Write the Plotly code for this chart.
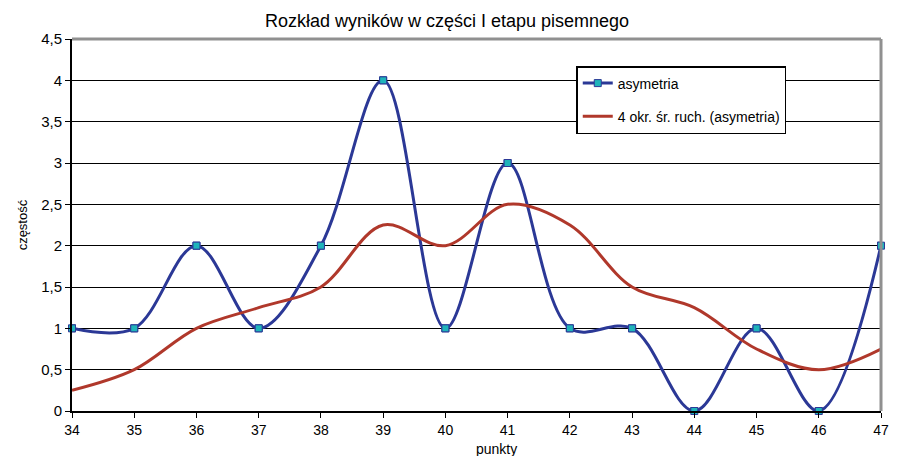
import plotly.graph_objects as go

# Score frequency data
punkty = [34, 35, 36, 37, 38, 39, 40, 41, 42, 43, 44, 45, 46, 47]
asymetria = [1, 1, 2, 1, 2, 4, 1, 3, 1, 1, 0, 1, 0, 2]
srednia_ruchoma = [0.25, 0.5, 1.0, 1.25, 1.5, 2.25, 2.0, 2.5, 2.25, 1.5, 1.25, 0.75, 0.5, 0.75]
y_ticks = [0, 0.5, 1, 1.5, 2, 2.5, 3, 3.5, 4, 4.5]

BLUE = "#2B3896"
RED = "#B0382B"
TEAL = "#1FB4BA"
FONT = "Liberation Sans, Arial, sans-serif"

fig = go.Figure()

fig.add_trace(go.Scatter(
    x=punkty, y=asymetria, name="asymetria", legendgroup="a",
    mode="lines+markers",
    line=dict(color=BLUE, width=3, shape="spline", smoothing=1),
    marker=dict(symbol="square", size=7, color=TEAL, line=dict(color=BLUE, width=1)),
))
fig.add_trace(go.Scatter(
    x=punkty, y=srednia_ruchoma, name="4 okr. śr. ruch. (asymetria)", legendgroup="b",
    mode="lines",
    line=dict(color=RED, width=3, shape="spline", smoothing=1),
))
# markers drawn again on top, unclipped at the plot edges
fig.add_trace(go.Scatter(
    x=punkty, y=asymetria, mode="markers", showlegend=False, cliponaxis=False,
    marker=dict(symbol="square", size=7, color=TEAL, line=dict(color=BLUE, width=1)),
    hoverinfo="skip",
))

# grey plot-area frame on top and right
fig.add_shape(type="line", xref="paper", yref="paper", x0=0, x1=1, y0=1, y1=1,
              line=dict(color="#909090", width=3), layer="above")
fig.add_shape(type="line", xref="paper", yref="paper", x0=1, x1=1, y0=0, y1=1,
              line=dict(color="#909090", width=3), layer="above")

fig.update_layout(
    width=901, height=456,
    margin=dict(l=72, r=14, t=39, b=45),
    paper_bgcolor="white", plot_bgcolor="white",
    separators=", ",
    font=dict(family=FONT, size=14, color="black"),
    title=dict(text="Rozkład wyników w części I etapu pisemnego",
               x=447 / 901, xanchor="center", y=1 - 21 / 456, yanchor="middle",
               font=dict(size=18, family=FONT, color="black")),
    xaxis=dict(
        range=[34, 47], tickmode="array", tickvals=punkty,
        ticktext=[str(p) for p in punkty],
        showgrid=False, zeroline=False,
        showline=True, linecolor="black", linewidth=2,
        ticks="outside", ticklen=5, tickcolor="black", tickwidth=1,
        tickfont=dict(size=14),
    ),
    yaxis=dict(
        range=[0, 4.5], tickmode="array", tickvals=y_ticks,
        showgrid=True, gridcolor="black", gridwidth=1, zeroline=False,
        showline=True, linecolor="black", linewidth=2,
        ticks="outside", ticklen=5, tickcolor="black", tickwidth=1,
        tickfont=dict(size=15),
    ),
    legend=dict(
        x=(580 - 72) / 815, y=(411 - 66) / 372, xanchor="left", yanchor="top",
        bgcolor="white", bordercolor="black", borderwidth=1.5,
        font=dict(size=14, family=FONT), traceorder="grouped", tracegroupgap=12,
    ),
    annotations=[
        dict(text="częstość", xref="paper", yref="paper",
             x=(22 - 72) / 815, y=0.5, textangle=-90, showarrow=False,
             font=dict(size=13, family=FONT), xanchor="center", yanchor="middle"),
        dict(text="punkty", xref="paper", yref="paper",
             x=(500 - 72) / 815, y=-(449 - 411) / 372, showarrow=False,
             font=dict(size=14, family=FONT), xanchor="center", yanchor="middle"),
    ],
)

fig.write_html("out.html")
